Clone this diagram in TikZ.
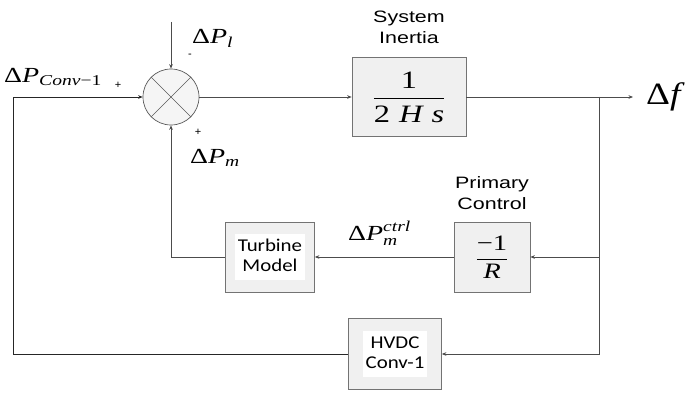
\documentclass[tikz,border=0pt]{standalone}
\usepackage{amsmath}
\usepackage{fontspec}
\setmainfont{Liberation Serif}
\setsansfont{Liberation Sans}
\newfontfamily\boxfont{Carlito}
\usetikzlibrary{arrows.meta,positioning,calc}
\newcommand{\vr}[1]{\text{\itshape #1}}
\newcommand{\wide}[1]{\scalebox{1.3}[1]{#1}}
\newcommand{\boxtext}[2]{\colorbox{white}{\scalebox{1.16}[1]{\begin{tabular}{@{}c@{}}#1\\#2\end{tabular}}}}

\begin{document}
\begin{tikzpicture}[x=1pt,y=-1pt]
	\tikzset{sig/.style={-{Stealth[length=1.6mm, width=1.3mm]}, draw=black!70, line width=0.7pt},
		blk/.style={draw=black!55, fill=black!6, minimum height=70pt, inner sep=2pt, line width=0.7pt},
		tag/.style={font=\sffamily\fontsize{16.5}{21}\selectfont, align=center},
		big/.style={font=\fontsize{21.5}{26}\selectfont, anchor=base west, inner sep=0pt},
		sgn/.style={font=\sffamily\fontsize{11}{12}\selectfont}}
	\useasboundingbox (0,0) rectangle (686,396);
	
	% summing junction
	\node[circle, draw=black!65, fill=black!4, minimum size=56pt, inner sep=0pt, line width=0.7pt] (sum) at (171,97) {};
	\draw[black!65, line width=0.7pt] (sum.north west) -- (sum.south east);
	\draw[black!65, line width=0.7pt] (sum.north east) -- (sum.south west);
	
	% blocks
	\node[blk, minimum width=114pt, minimum height=79pt, font=\fontsize{25}{29}\selectfont] (inertia) at (409,97) {\wide{$\dfrac{\text{1}}{\text{2\;\itshape H\;s}}$}};
	\node[blk, minimum width=76pt, font=\fontsize{22}{26}\selectfont] (prim) at (492,257) {\wide{$\dfrac{\text{−1}}{\vr{R}}$}};
	\node[blk, minimum width=89pt, font=\boxfont\fontsize{18}{20}\selectfont] (turb) at (270,257) {\boxtext{Turbine}{Model}};
	\node[blk, minimum width=93pt, minimum height=71pt, font=\boxfont\fontsize{18}{20}\selectfont] (hvdc) at (395,354) {\boxtext{HVDC}{Conv-1}};
	\node[tag] (inertiatag) at (409,27) {\wide{System}\\\wide{Inertia}};
	\node[tag] (primtag) at (492,193) {\wide{Primary}\\\wide{Control}};
	
	% branch points
	\coordinate (load) at (171,22);
	\coordinate (tap) at (599,97);
	\coordinate (out) at (633,97);
	\coordinate (cnr) at (13,97);
	
	% connectors
	\draw[sig] (load) -- (sum.north);
	\draw[sig] (sum.east) -- (inertia.west);
	\draw[sig] (inertia.east) -- (out);
	\draw[sig] (tap) |- (prim.east);
	\draw[sig] (tap) |- (hvdc.east);
	\draw[sig] (prim.west) -- (turb.east);
	\draw[sig] (turb.west) -| (sum.south);
	\draw[sig, draw=black!85] (hvdc.west) -| (cnr) -- (sum.west);
	
	% signal names
	\node[big, font=\fontsize{31}{34}\selectfont] (df) at (646,105) {\scalebox{1.2}[1]{Δ\textit{f}}};
	\node[big] (pl) at (192,44) {\wide{$\text{Δ}\vr{P}_{\vr{l}}$}};
	\node[big] (pconv) at (4,82) {\wide{$\text{Δ}\vr{P}_{\vr{Conv}\text{−1}}$}};
	\node[big] (pm) at (190,163) {\wide{$\text{Δ}\vr{P}_{\vr{m}}$}};
	\node[big] (pctrl) at (348,240) {\wide{$\text{Δ}\vr{P}_{\vr{m}}^{\vr{ctrl}}$}};
	\node[sgn] at (190,56) {-};
	\node[sgn] at (118,85) {+};
	\node[sgn] at (198,132) {+};
\end{tikzpicture}
\end{document}
